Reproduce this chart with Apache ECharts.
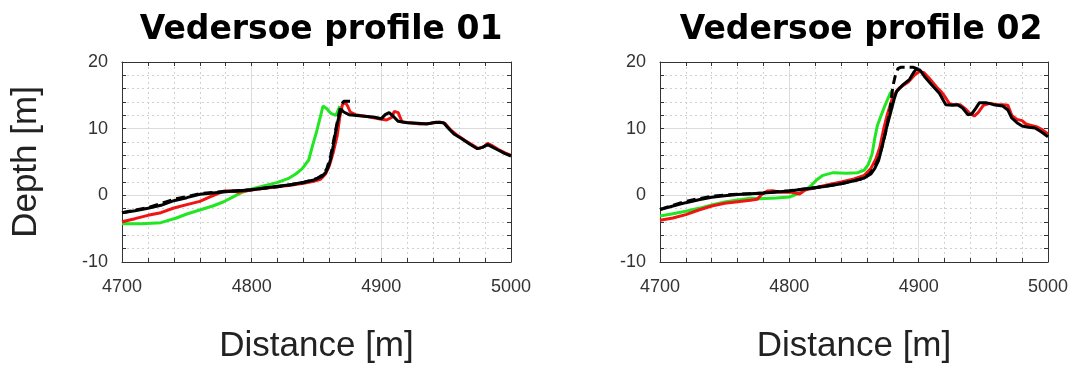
<!DOCTYPE html>
<html>
<head>
<meta charset="utf-8">
<script src="https://cdn.jsdelivr.net/npm/echarts@6/dist/echarts.min.js"></script>
<style>
html,body{margin:0;padding:0;background:#fff;}
#c{width:1071px;height:369px;}
</style>
</head>
<body>
<div id="c"></div>
<script>
// ---- data (distance [m], depth [m]) ----
const titles = ['Vedersoe profile 01', 'Vedersoe profile 02'];
const xTicks = [4700, 4800, 4900, 5000];
const yTicks = [-10, 0, 10, 20];

const p1Black = [[4700,-2.6],[4710,-2.3],[4720,-1.95],[4730,-1.5],[4740,-0.8],[4750,-0.35],[4760,0.15],[4770,0.35],[4780,0.55],[4790,0.7],[4800,0.85],[4810,1.1],[4820,1.35],[4830,1.6],[4840,1.95],[4848,2.3],[4854,2.8],[4857,3.4],[4859,4.2],[4861,5.5],[4863,7.5],[4865,9.8],[4867,11.6],[4869,12.9],[4871,12.5],[4875,12.1],[4885,11.9],[4895,11.7],[4900,11.5],[4903,12.1],[4906,12.4],[4909,11.9],[4913,11.1],[4920,10.9],[4928,10.8],[4935,10.7],[4942,10.95],[4948,10.9],[4952,10.0],[4956,9.2],[4962,8.5],[4968,7.7],[4974,7.0],[4978,7.2],[4982,7.6],[4985,7.3],[4990,6.8],[4995,6.3],[5000,5.9]];
const p1BlackDash = [[4700,-2.6],[4720,-1.85],[4740,-0.6],[4760,0.25],[4780,0.6],[4800,0.85],[4820,1.3],[4840,1.9],[4850,2.5],[4855,3.1],[4858,4.0],[4861,6.0],[4864,9.0],[4867,12.0],[4869,13.6],[4871,14.1],[4880,14.1]];
const p1Red = [[4700,-3.95],[4710,-3.5],[4720,-3.0],[4730,-2.6],[4740,-1.9],[4750,-1.4],[4760,-0.9],[4767,-0.3],[4773,0.2],[4778,0.6],[4783,0.7],[4790,0.5],[4800,0.8],[4810,1.05],[4820,1.3],[4830,1.5],[4840,1.8],[4848,2.1],[4853,2.4],[4857,3.2],[4860,4.5],[4863,6.5],[4866,9.0],[4868,11.8],[4870,13.6],[4872,14.0],[4874,13.4],[4876,12.5],[4880,12.1],[4890,11.8],[4898,11.5],[4904,11.3],[4908,11.7],[4910,12.6],[4913,12.4],[4916,11.0],[4922,10.9],[4930,10.7],[4938,10.8],[4945,11.0],[4949,10.8],[4953,9.9],[4958,9.1],[4964,8.3],[4970,7.6],[4975,7.0],[4979,7.3],[4982,7.8],[4985,7.5],[4990,6.9],[4995,6.4],[5000,6.0]];
const p1Green = [[4700,-4.25],[4715,-4.25],[4730,-4.1],[4742,-3.4],[4750,-2.8],[4760,-2.2],[4770,-1.6],[4778,-1.0],[4785,-0.3],[4792,0.4],[4800,0.95],[4810,1.45],[4820,1.95],[4828,2.5],[4834,3.2],[4839,4.0],[4844,5.3],[4847,7.5],[4850,9.5],[4853,11.8],[4855,13.4],[4858,13.0],[4861,12.3],[4865,12.0],[4868,13.4]];

const p2Black = [[4700,-2.15],[4710,-1.6],[4720,-1.1],[4730,-0.65],[4740,-0.3],[4750,-0.05],[4760,0.12],[4770,0.25],[4780,0.35],[4790,0.5],[4800,0.65],[4810,0.9],[4820,1.15],[4830,1.4],[4840,1.75],[4850,2.2],[4858,2.6],[4863,3.2],[4866,4.0],[4869,5.2],[4872,7.5],[4875,10.0],[4878,12.2],[4881,14.4],[4883,15.6],[4888,16.6],[4893,17.4],[4896,18.4],[4898,18.9],[4901,18.8],[4905,17.7],[4910,16.6],[4916,15.3],[4921,13.6],[4926,13.5],[4930,13.6],[4934,13.1],[4938,12.1],[4941,12.2],[4944,13.0],[4947,13.9],[4952,13.9],[4958,13.6],[4965,13.4],[4969,12.8],[4972,11.6],[4976,10.9],[4980,10.4],[4985,10.2],[4990,10.1],[4995,9.5],[5000,8.8]];
const p2BlackDash = [[4700,-2.1],[4710,-1.5],[4720,-0.9],[4730,-0.5],[4740,-0.15],[4750,0.05],[4760,0.15],[4780,0.35],[4800,0.7],[4820,1.15],[4840,1.75],[4855,2.4],[4862,3.2],[4866,4.3],[4869,5.5],[4872,7.5],[4875,9.9],[4878,13.0],[4880,16.3],[4882,18.0],[4884,19.0],[4886,19.2],[4896,19.2],[4900,18.9]];
const p2Red = [[4700,-3.75],[4710,-3.4],[4720,-2.9],[4730,-2.2],[4740,-1.6],[4750,-1.2],[4760,-0.95],[4770,-0.75],[4775,-0.6],[4779,0.2],[4783,0.65],[4787,0.7],[4793,0.45],[4802,0.45],[4808,0.2],[4812,0.8],[4820,1.15],[4830,1.6],[4840,2.0],[4850,2.45],[4858,3.0],[4863,4.0],[4867,5.5],[4870,7.2],[4873,10.0],[4876,12.3],[4880,14.8],[4885,16.1],[4892,17.0],[4897,18.1],[4901,18.6],[4904,18.4],[4908,17.6],[4914,16.2],[4918,15.4],[4921,14.6],[4924,13.7],[4928,13.6],[4932,13.6],[4936,13.0],[4940,12.2],[4943,11.9],[4946,12.4],[4950,13.5],[4955,13.8],[4960,13.6],[4965,13.6],[4969,13.5],[4972,12.0],[4976,11.4],[4980,11.2],[4983,10.7],[4987,10.5],[4991,10.3],[4995,9.9],[5000,9.2]];
const p2Green = [[4700,-3.1],[4710,-2.75],[4720,-2.4],[4730,-1.95],[4740,-1.45],[4750,-1.0],[4760,-0.7],[4770,-0.45],[4777,-0.5],[4790,-0.4],[4800,-0.25],[4808,0.35],[4813,0.9],[4817,1.5],[4821,2.3],[4826,3.0],[4834,3.4],[4844,3.3],[4853,3.4],[4858,3.8],[4861,4.6],[4864,6.2],[4866,8.5],[4868,10.4],[4871,12.0],[4874,13.5],[4878,15.3],[4880,15.8]];

const xName = 'Distance [m]';
const yName = 'Depth [m]';

// ---- chart ----
const chart = echarts.init(document.getElementById('c'), null, {renderer: 'canvas'});
const frameColor = '#333';
const grids = [
  {left: 122, top: 62, width: 389, height: 203},
  {left: 660, top: 62, width: 388, height: 203}
];
const xMin = xTicks[0], xMax = xTicks[xTicks.length - 1], xInt = xTicks[1] - xTicks[0];
const yMin = yTicks[0], yMax = yTicks[yTicks.length - 1], yInt = yTicks[1] - yTicks[0];
const labelFont = {fontFamily: 'Liberation Sans', fontSize: 18, color: '#333', formatter: v => String(v)};
const frameLine = {show: true, onZero: false, lineStyle: {color: frameColor, width: 1}};
const tick = {show: true, inside: true, length: 4, lineStyle: {color: frameColor}};
const minorTick = {show: true, splitNumber: 5, length: 4, lineStyle: {color: frameColor}};
const majorGrid = {show: true, lineStyle: {color: '#dcdcdc', width: 1}};
const minorGrid = {show: true, lineStyle: {color: '#d0d0d0', width: 1, type: [2, 3]}};

const xAxes = [], yAxes = [];
grids.forEach((g, i) => {
  xAxes.push({
    type: 'value', gridIndex: i, position: 'bottom', min: xMin, max: xMax, interval: xInt,
    axisLine: frameLine, axisTick: tick, minorTick: minorTick,
    axisLabel: Object.assign({margin: 16}, labelFont),
    splitLine: majorGrid, minorSplitLine: minorGrid,
    name: xName, nameLocation: 'middle', nameGap: 67,
    nameTextStyle: {fontFamily: 'Liberation Sans', fontSize: 35, color: '#222'}
  });
  xAxes.push({
    type: 'value', gridIndex: i, position: 'top', min: xMin, max: xMax, interval: xInt,
    axisLine: frameLine, axisTick: tick, minorTick: minorTick,
    axisLabel: {show: false}, splitLine: {show: false}
  });
  const yL = {
    type: 'value', gridIndex: i, position: 'left', min: yMin, max: yMax, interval: yInt,
    axisLine: frameLine, axisTick: tick, minorTick: minorTick,
    axisLabel: Object.assign({margin: 14}, labelFont),
    splitLine: majorGrid, minorSplitLine: minorGrid
  };
  if (i === 0) {
    Object.assign(yL, {
      name: yName, nameLocation: 'middle', nameGap: 78, nameRotate: 90,
      nameTextStyle: {fontFamily: 'Liberation Sans', fontSize: 35, color: '#222'}
    });
  }
  yAxes.push(yL);
  yAxes.push({
    type: 'value', gridIndex: i, position: 'right', min: yMin, max: yMax, interval: yInt,
    axisLine: frameLine, axisTick: tick, minorTick: minorTick,
    axisLabel: {show: false}, splitLine: {show: false}
  });
});

function line(data, gi, color, dashed, z) {
  return {
    type: 'line', data: data, xAxisIndex: gi * 2, yAxisIndex: gi * 2,
    showSymbol: false, symbol: 'none', smooth: false, clip: true, z: z,
    lineStyle: {color: color, width: 3, type: dashed ? [9, 5] : 'solid'},
    emphasis: {disabled: true}, animation: false
  };
}

const green = '#22e622', red = '#f01414', black = '#000';
const series = [
  line(p1Green, 0, green, false, 2),
  line(p1Red, 0, red, false, 3),
  line(p1BlackDash, 0, black, true, 4),
  line(p1Black, 0, black, false, 5),
  line(p2Green, 1, green, false, 2),
  line(p2Red, 1, red, false, 3),
  line(p2BlackDash, 1, black, true, 4),
  line(p2Black, 1, black, false, 5)
];

chart.setOption({
  animation: false,
  backgroundColor: '#fff',
  title: [
    {text: titles[0], left: 316, top: 9, textAlign: 'center',
     textStyle: {fontFamily: 'DejaVu Sans', fontWeight: 'bold', fontSize: 33, color: '#000'}},
    {text: titles[1], left: 856, top: 9, textAlign: 'center',
     textStyle: {fontFamily: 'DejaVu Sans', fontWeight: 'bold', fontSize: 33, color: '#000'}}
  ],
  grid: grids,
  xAxis: xAxes,
  yAxis: yAxes,
  series: series
});
</script>
</body>
</html>
